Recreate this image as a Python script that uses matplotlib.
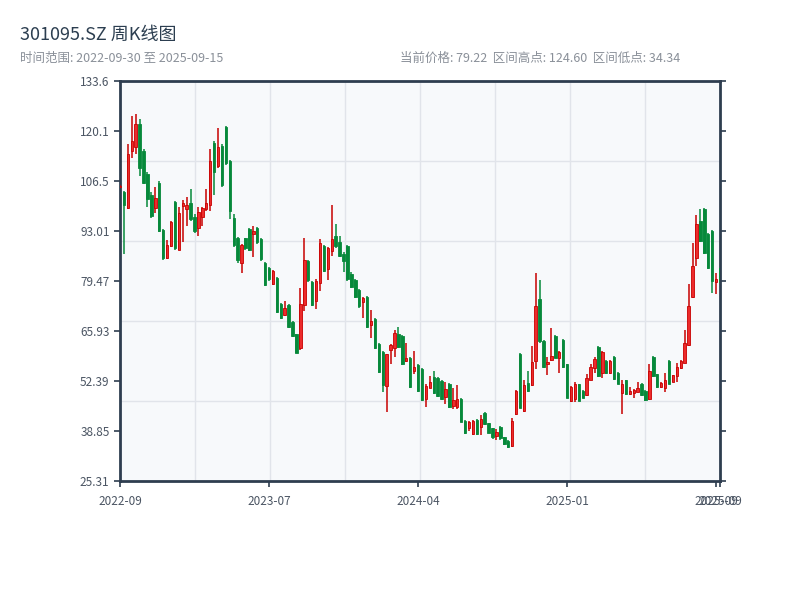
import numpy as np
import matplotlib
matplotlib.use("Agg")
import matplotlib.pyplot as plt

plt.rcParams['font.family'] = ['Noto Sans CJK SC', 'DejaVu Sans']

# 周K数据
opens = [104.8, 103.6, 99.2, 114.7, 115.8, 121.9, 114.8, 108.4, 102.8, 99.2,
         106.0, 93.3, 85.6, 89.0, 100.9, 88.0, 99.8, 99.1, 100.6, 96.8,
         93.9, 96.9, 99.1, 100.0, 116.8, 110.5, 116.1, 121.2, 111.9, 96.6,
         91.2, 84.4, 91.0, 93.5, 92.3, 93.7, 90.8, 84.4, 83.1, 78.6,
         80.4, 73.3, 70.3, 72.9, 68.4, 65.0, 61.2, 73.1, 84.9, 79.2,
         74.0, 79.0, 88.9, 82.6, 87.6, 91.7, 89.9, 86.9, 88.9, 81.5,
         79.7, 77.0, 73.9, 75.1, 67.6, 69.1, 62.3, 60.2, 51.0, 60.7,
         61.2, 65.0, 64.6, 57.8, 58.7, 55.1, 56.7, 55.6, 47.4, 50.6,
         53.4, 53.1, 52.4, 48.1, 51.5, 45.6, 45.4, 47.6, 41.6, 39.8,
         38.0, 41.8, 39.9, 43.6, 40.9, 39.6, 37.5, 39.9, 37.1, 36.2,
         34.8, 43.4, 59.6, 44.2, 51.9, 51.3, 57.8, 74.5, 63.3, 57.0,
         58.1, 64.6, 58.7, 63.5, 56.9, 47.0, 47.4, 51.5, 49.7, 48.6,
         52.8, 56.0, 61.6, 54.6, 57.8, 54.6, 58.9, 54.6, 49.2, 52.6,
         48.8, 49.2, 49.5, 51.7, 49.7, 47.4, 58.9, 54.2, 50.8, 50.6,
         57.8, 52.2, 53.7, 56.0, 57.4, 62.1, 75.1, 85.8, 95.7, 99.1,
         92.3, 93.0, 79.3, 82.9]
closes = [105.3, 100.0, 113.8, 117.4, 121.9, 110.2, 106.1, 101.6, 97.1, 101.9,
          93.0, 85.8, 89.2, 95.4, 88.5, 97.9, 100.6, 100.0, 96.2, 93.0,
          98.2, 99.3, 100.6, 111.9, 109.1, 115.8, 105.4, 111.4, 98.4, 89.2,
          85.1, 89.2, 88.5, 87.8, 93.0, 90.1, 85.3, 78.4, 79.9, 82.2,
          71.2, 69.5, 72.1, 67.0, 64.6, 60.1, 73.3, 85.1, 79.7, 72.9,
          79.5, 89.8, 82.2, 88.3, 90.8, 88.9, 86.2, 84.9, 79.9, 77.8,
          75.1, 72.6, 75.0, 67.0, 68.6, 61.4, 54.9, 51.2, 59.6, 62.1,
          65.3, 61.6, 57.1, 58.5, 50.7, 56.2, 49.7, 47.2, 51.0, 52.2,
          49.2, 48.3, 47.6, 50.1, 45.4, 47.2, 47.4, 41.4, 38.3, 41.3,
          41.6, 38.0, 42.0, 40.7, 38.4, 37.2, 38.7, 36.9, 35.3, 34.6,
          41.6, 49.7, 45.2, 51.3, 49.7, 57.5, 72.7, 63.2, 56.1, 57.5,
          59.2, 58.7, 60.3, 56.2, 47.9, 50.8, 51.7, 47.0, 47.9, 53.3,
          56.2, 58.3, 53.7, 60.2, 54.6, 57.8, 52.9, 51.7, 51.7, 48.8,
          49.7, 49.9, 50.6, 48.6, 47.2, 55.1, 53.7, 50.8, 51.9, 52.8,
          51.7, 53.9, 56.2, 57.8, 62.8, 72.7, 83.5, 94.8, 90.3, 87.1,
          82.9, 79.5, 79.9, 79.22]
highs = [105.5, 103.8, 116.5, 124.1, 124.6, 123.3, 115.2, 109.0, 103.5, 104.9,
         106.5, 93.6, 90.5, 95.8, 101.2, 99.5, 101.4, 102.2, 104.4, 97.5,
         99.5, 99.5, 104.4, 115.1, 117.5, 120.9, 116.5, 121.5, 112.3, 97.7,
         91.5, 89.5, 91.2, 93.7, 94.4, 94.0, 91.0, 84.6, 83.3, 82.5,
         80.6, 73.6, 74.0, 73.2, 68.7, 65.2, 77.7, 91.0, 85.2, 79.5,
         79.9, 90.9, 89.2, 88.7, 100.0, 94.8, 91.7, 87.2, 89.2, 81.8,
         80.0, 77.3, 75.2, 75.4, 71.6, 69.4, 62.6, 60.5, 59.8, 62.3,
         66.1, 67.0, 64.9, 62.6, 59.0, 60.5, 57.0, 55.9, 51.7, 53.7,
         55.1, 53.4, 52.7, 52.2, 51.8, 50.4, 51.3, 47.8, 41.8, 41.6,
         41.8, 42.0, 43.2, 43.9, 41.1, 39.8, 39.3, 40.1, 37.3, 36.4,
         42.5, 49.9, 60.0, 52.8, 55.1, 61.9, 81.7, 79.7, 63.5, 58.9,
         66.7, 64.8, 60.5, 63.9, 57.0, 51.0, 52.0, 51.7, 50.0, 54.2,
         57.1, 58.9, 61.8, 60.4, 58.0, 58.2, 59.1, 54.8, 52.6, 52.8,
         50.8, 50.1, 52.0, 51.9, 49.9, 57.1, 59.1, 54.4, 52.1, 54.6,
         58.0, 54.1, 57.4, 58.2, 66.1, 78.6, 89.8, 97.3, 99.1, 99.3,
         92.5, 93.2, 81.7, 83.1]
lows = [104.6, 86.7, 99.0, 112.9, 113.8, 107.9, 105.8, 99.5, 96.5, 98.0,
        92.8, 85.2, 85.4, 88.6, 88.0, 87.8, 90.1, 94.4, 95.7, 92.5,
        91.7, 94.4, 98.4, 98.4, 102.8, 110.2, 105.0, 111.0, 96.3, 88.7,
        84.4, 81.7, 88.0, 87.5, 86.0, 89.5, 85.0, 78.2, 79.6, 78.3,
        70.9, 69.2, 69.9, 66.8, 64.3, 59.9, 60.9, 71.4, 79.2, 72.6,
        72.0, 76.8, 82.0, 79.8, 86.2, 88.5, 86.0, 81.9, 79.6, 77.5,
        74.8, 72.2, 69.5, 66.8, 64.1, 61.1, 54.6, 49.4, 44.1, 57.1,
        59.0, 61.3, 56.8, 57.6, 50.4, 54.2, 49.4, 46.9, 45.4, 50.4,
        49.0, 48.0, 47.3, 46.3, 45.1, 44.7, 44.9, 41.2, 38.1, 38.9,
        37.8, 37.8, 37.7, 40.5, 38.2, 36.6, 36.3, 36.4, 35.1, 34.34,
        34.5, 43.2, 45.0, 44.0, 49.5, 51.1, 55.6, 62.8, 55.8, 53.9,
        57.9, 58.5, 54.6, 56.0, 47.7, 46.8, 46.8, 46.9, 47.7, 48.4,
        52.6, 54.6, 53.5, 53.1, 54.4, 54.4, 52.7, 51.5, 43.4, 48.6,
        48.6, 47.7, 49.3, 48.4, 47.0, 47.2, 53.5, 50.6, 50.6, 49.5,
        51.5, 52.0, 52.2, 55.6, 57.2, 61.9, 74.9, 83.5, 90.0, 86.9,
        82.6, 76.3, 76.0, 79.0]

tick_idx = [0, 38, 76, 114, 152, 153]
tick_labels = ['2022-09', '2023-07', '2024-04', '2025-01', '2025-09', '2025-09']

o = np.array(opens)
c = np.array(closes)
h = np.array(highs)
l = np.array(lows)
x = np.arange(len(o))

up_fill = '#ec2b2b'
up_edge = '#c80000'
down_col = '#06893a'
frame = '#2e3d4f'

fig = plt.figure(figsize=(8, 6), dpi=100)
ax = fig.add_axes([0.15, 0.1983, 0.75, 0.6667])
ax.set_facecolor('#f7f9fb')

up = c >= o
# 影线
ax.vlines(x[up], l[up], h[up], color=up_edge, linewidth=1.1, zorder=3)
ax.vlines(x[~up], l[~up], h[~up], color=down_col, linewidth=1.1, zorder=3)
# 实体
ax.bar(x[up], np.maximum(c[up] - o[up], 0.15), bottom=o[up], width=0.62,
       color=up_fill, edgecolor=up_edge, linewidth=0.6, zorder=4)
ax.bar(x[~up], o[~up] - c[~up], bottom=c[~up], width=0.62,
       color=down_col, edgecolor=down_col, linewidth=0.6, zorder=4)

lo, hi = l.min(), h.max()
pad = (hi - lo) * 0.1
ymin, ymax = lo - pad, hi + pad
ax.set_ylim(ymin, ymax)
ax.set_xlim(0, len(x) - 1)

# 网格 (与刻度不对齐)
for gy in np.linspace(ymin, ymax, 6)[1:-1]:
    ax.axhline(gy, color='#e1e4ea', linewidth=1, zorder=1)
for gx in np.linspace(0, len(x) - 1, 9)[1:-1]:
    ax.axvline(gx, color='#e1e4ea', linewidth=1, zorder=1)

yt = np.linspace(ymin, ymax, 9)
ax.set_yticks(yt)
ax.set_yticklabels(['%.4g' % v for v in yt])
ax.set_xticks(tick_idx)
ax.set_xticklabels(tick_labels)
ax.tick_params(axis='both', colors=frame, length=4, width=1.2, labelsize=8.5,
               labelcolor='#4b5563')
ax.tick_params(axis='y', right=True)
ax.tick_params(axis='x', pad=6)
for s in ax.spines.values():
    s.set_color(frame)
    s.set_linewidth(2)

fig.text(0.025, 0.942, '301095.SZ 周K线图', fontsize=13, color='#2c3e50', va='center')
fig.text(0.025, 0.903, '时间范围: 2022-09-30 至 2025-09-15', fontsize=9,
         color='#8a9099', va='center')
fig.text(0.5, 0.903, f'当前价格: {c[-1]:.2f}  区间高点: {hi:.2f}  区间低点: {lo:.2f}',
         fontsize=9, color='#8a9099', va='center')

fig.savefig('out.png', dpi=100)
